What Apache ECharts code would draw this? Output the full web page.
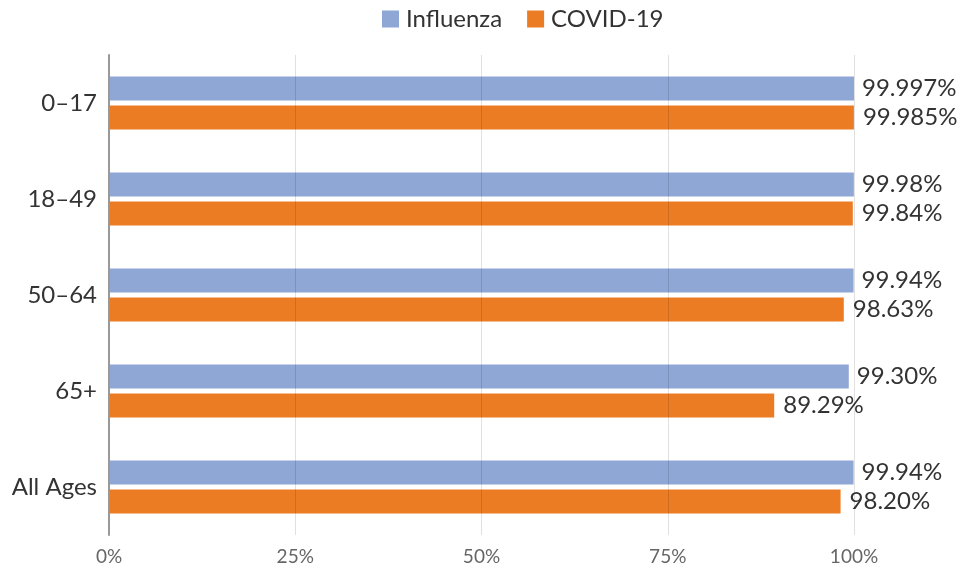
<!DOCTYPE html>
<html>
	<head>
		<meta charset="utf-8" />
		<title></title>
		<script src="https://cdn.jsdelivr.net/npm/echarts@6/dist/echarts.min.js"></script>
		<style>
			html, body { margin: 0; padding: 0; background: #fff; }
			#main { width: 961px; height: 571px; }
		</style>
	</head>
	<body>
		<div id="main"></div>
		<script>
			// 年龄组
			var categories = ['0\u201317', '18\u201349', '50\u201364', '65+', 'All Ages'];
			var fluValues = [99.997, 99.98, 99.94, 99.30, 99.94];
			var covidValues = [99.985, 99.84, 98.63, 89.29, 98.20];
			var fluLabels = ['99.997%', '99.98%', '99.94%', '99.30%', '99.94%'];
			var covidLabels = ['99.985%', '99.84%', '98.63%', '89.29%', '98.20%'];
			var tickLabels = ['0%', '25%', '50%', '75%', '100%'];

			var mycharts = echarts.init(document.getElementById('main'));
			var font = 'Lato, "Open Sans", sans-serif';
			var option = {
				animation: false,
				legend: {
					top: 2,
					left: 377,
					itemWidth: 17,
					itemHeight: 17,
					itemGap: 25,
					icon: 'rect',
					textStyle: { fontSize: 24, color: '#333', fontFamily: font, padding: [0, 0, 0, 2] },
					data: ['Influenza', 'COVID-19']
				},
				grid: { left: 109, right: 107, top: 55, bottom: 36 },
				xAxis: {
					type: 'value',
					min: 0,
					max: 100,
					interval: 25,
					z: 5,
					axisLine: { show: false },
					axisTick: { show: false },
					splitLine: { lineStyle: { color: 'rgba(0,0,0,0.12)', width: 1 } },
					axisLabel: {
						fontSize: 19,
						color: '#666',
						margin: 12,
						fontFamily: font,
						formatter: function (v) { return tickLabels[v / 25]; }
					}
				},
				yAxis: {
					type: 'category',
					inverse: true,
					data: categories,
					z: 5,
					axisLine: { lineStyle: { color: '#999', width: 2 } },
					axisTick: { show: false },
					axisLabel: { fontSize: 24, color: '#333', margin: 12, fontFamily: font }
				},
				series: [
					{
						name: 'Influenza',
						type: 'bar',
						data: fluValues,
						barWidth: 24,
						barGap: '20%',
						itemStyle: { color: '#8fa7d5' },
						label: {
							show: true,
							position: 'right',
							distance: 8,
							fontSize: 24,
							color: '#333',
							fontFamily: font,
							formatter: function (p) { return fluLabels[p.dataIndex]; }
						}
					},
					{
						name: 'COVID-19',
						type: 'bar',
						data: covidValues,
						barWidth: 24,
						itemStyle: { color: '#ec7c23' },
						label: {
							show: true,
							position: 'right',
							distance: 9,
							fontSize: 24,
							color: '#333',
							fontFamily: font,
							formatter: function (p) { return covidLabels[p.dataIndex]; }
						}
					}
				]
			};
			mycharts.setOption(option);
		</script>
	</body>
</html>
